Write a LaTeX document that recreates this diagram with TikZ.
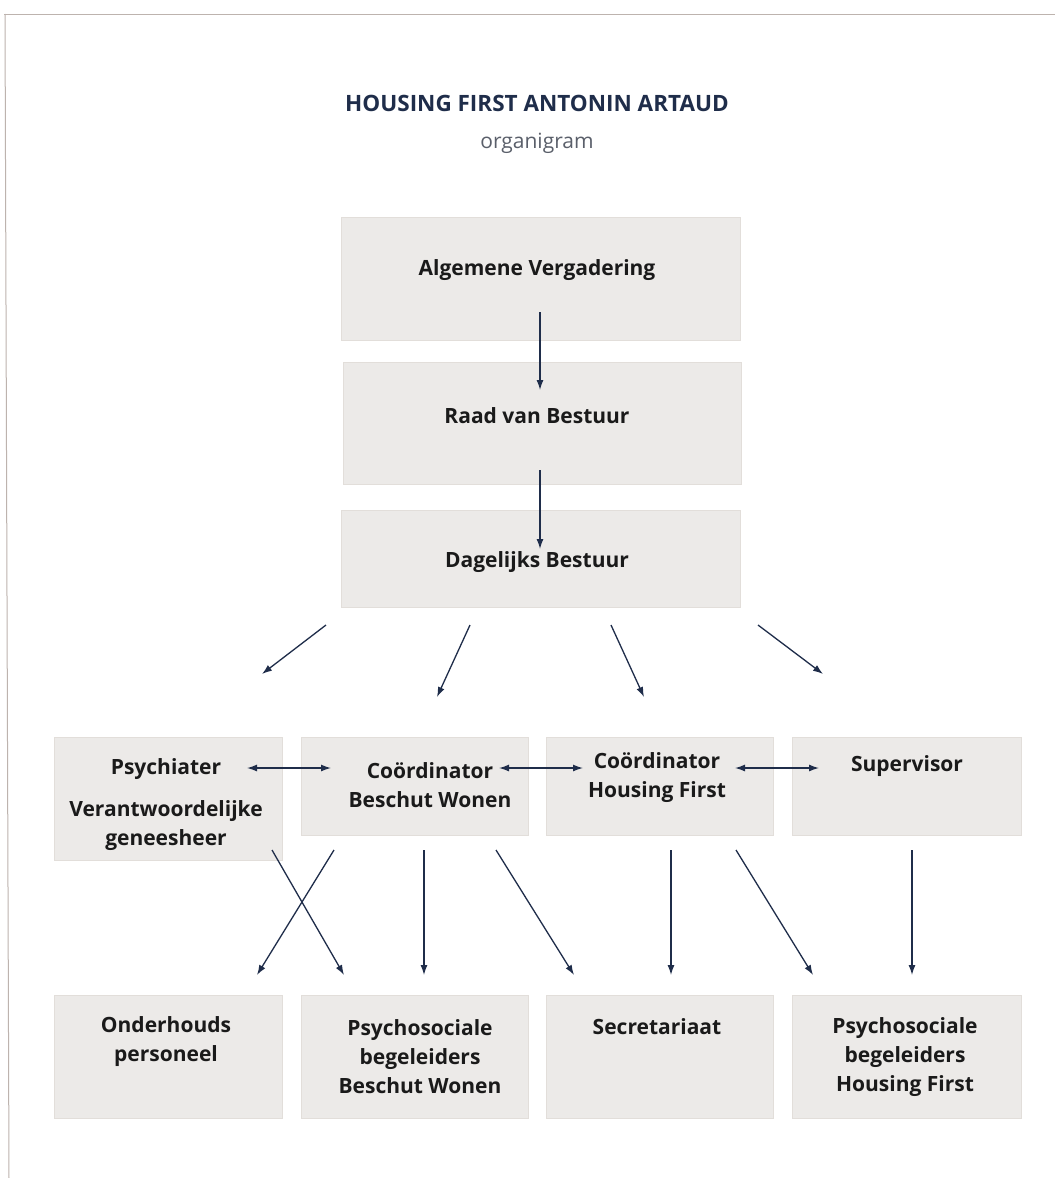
\documentclass[tikz,border=0pt]{standalone}
\usepackage{fontspec}
\setmainfont{Open Sans}
\usetikzlibrary{arrows.meta}
\definecolor{boxfill}{HTML}{ECEAE8}
\definecolor{boxline}{HTML}{E2DEDA}
\definecolor{navy}{HTML}{1F2D4A}
\definecolor{framec}{HTML}{BDB3AE}
\definecolor{txtc}{HTML}{1A1A1A}
\definecolor{subc}{HTML}{5A5F6A}
\begin{document}
\begin{tikzpicture}[x=1pt,y=-1pt,
  box/.style={fill=boxfill,draw=boxline,line width=1pt,inner sep=0pt},
  txt/.style={text=txtc,align=center,inner sep=0pt,font=\fontsize{21}{29}\selectfont\bfseries},
  arr/.style={draw=navy,line width=1.3pt,-{Latex[length=10pt,width=7pt]}},
  darr/.style={draw=navy,line width=1.3pt,{Latex[length=10pt,width=7pt]}-{Latex[length=10pt,width=7pt]}}]
\useasboundingbox (0,0) rectangle (1055,1178);
\fill[white] (0,0) rectangle (1055,1178);
\draw[framec,line width=1pt] (4,14) -- (1055,14);
\draw[framec,line width=1pt] (5,14) -- (9,1178);
% title
\node[text=navy,font=\fontsize{22.5}{26}\selectfont\bfseries] (title) at (537,103) {HOUSING FIRST ANTONIN ARTAUD};
\node[text=subc,font=\fontsize{21}{24}\selectfont] (sub) at (537,143) {organigram};
% top boxes
\node[box,minimum width=399,minimum height=123] (av) at (540.5,278.5) {};
\node[box,minimum width=398,minimum height=122] (rvb) at (542,423) {};
\node[box,minimum width=399,minimum height=97] (db) at (540.5,558.5) {};
\node[txt] (tav) at (537,270) {Algemene Vergadering};
\node[txt] (trvb) at (537,416) {Raad van Bestuur};
\node[txt] (tdb) at (537,562) {Dagelijks Bestuur};
% middle row
\node[box,minimum width=228,minimum height=123] (psy) at (168,798.5) {};
\node[box,minimum width=227,minimum height=98] (cbw) at (414.5,786) {};
\node[box,minimum width=227,minimum height=98] (chf) at (659.5,786) {};
\node[box,minimum width=229,minimum height=98] (sup) at (906.5,786) {};
\node[txt] (tpsy1) at (166,769) {Psychiater};
\node[txt] (tpsy2) at (166,826) {Verantwoordelijke\\geneesheer};
\node[txt] (tcbw) at (430,785) {Coördinator\\Beschut Wonen};
\node[txt] (tchf) at (657,778) {Coördinator\\Housing First};
\node[txt] (tsup) at (907,766) {Supervisor};
% bottom row
\node[box,minimum width=228,minimum height=123] (ond) at (168,1056.5) {};
\node[box,minimum width=227,minimum height=123] (pbw) at (414.5,1056.5) {};
\node[box,minimum width=227,minimum height=123] (sec) at (659.5,1056.5) {};
\node[box,minimum width=229,minimum height=123] (phf) at (906.5,1056.5) {};
\node[txt] (tond) at (166,1042) {Onderhouds\\personeel};
\node[txt] (tpbw) at (420,1057) {Psychosociale\\begeleiders\\Beschut Wonen};
\node[txt] (tsec) at (657,1027) {Secretariaat};
\node[txt] (tphf) at (905,1057) {Psychosociale\\begeleiders\\Housing First};
% arrow coordinates
\coordinate (a1s) at (540,312); \coordinate (a1e) at (540,390);
\coordinate (a2s) at (540,470); \coordinate (a2e) at (540,549);
\coordinate (f1s) at (326,625); \coordinate (f1e) at (262,674);
\coordinate (f2s) at (470,625); \coordinate (f2e) at (437,697);
\coordinate (f3s) at (611,625); \coordinate (f3e) at (644,697);
\coordinate (f4s) at (758,625); \coordinate (f4e) at (823,674);
\coordinate (h1s) at (247,768); \coordinate (h1e) at (331,768);
\coordinate (h2s) at (499,768); \coordinate (h2e) at (583,768);
\coordinate (h3s) at (735,768); \coordinate (h3e) at (819,768);
\coordinate (l1s) at (334,850); \coordinate (l1e) at (257,975);
\coordinate (l2s) at (272,850); \coordinate (l2e) at (344,975);
\coordinate (l3s) at (424,850); \coordinate (l3e) at (424,975);
\coordinate (l4s) at (496,850); \coordinate (l4e) at (574,975);
\coordinate (l5s) at (671,850); \coordinate (l5e) at (671,975);
\coordinate (l6s) at (736,850); \coordinate (l6e) at (813,975);
\coordinate (l7s) at (912,850); \coordinate (l7e) at (912,975);
% arrows
\draw[arr] (a1s) -- (a1e);
\draw[arr] (a2s) -- (a2e);
\draw[arr] (f1s) -- (f1e);
\draw[arr] (f2s) -- (f2e);
\draw[arr] (f3s) -- (f3e);
\draw[arr] (f4s) -- (f4e);
\draw[darr] (h1s) -- (h1e);
\draw[darr] (h2s) -- (h2e);
\draw[darr] (h3s) -- (h3e);
\draw[arr] (l1s) -- (l1e);
\draw[arr] (l2s) -- (l2e);
\draw[arr] (l3s) -- (l3e);
\draw[arr] (l4s) -- (l4e);
\draw[arr] (l5s) -- (l5e);
\draw[arr] (l6s) -- (l6e);
\draw[arr] (l7s) -- (l7e);
\end{tikzpicture}
\end{document}
